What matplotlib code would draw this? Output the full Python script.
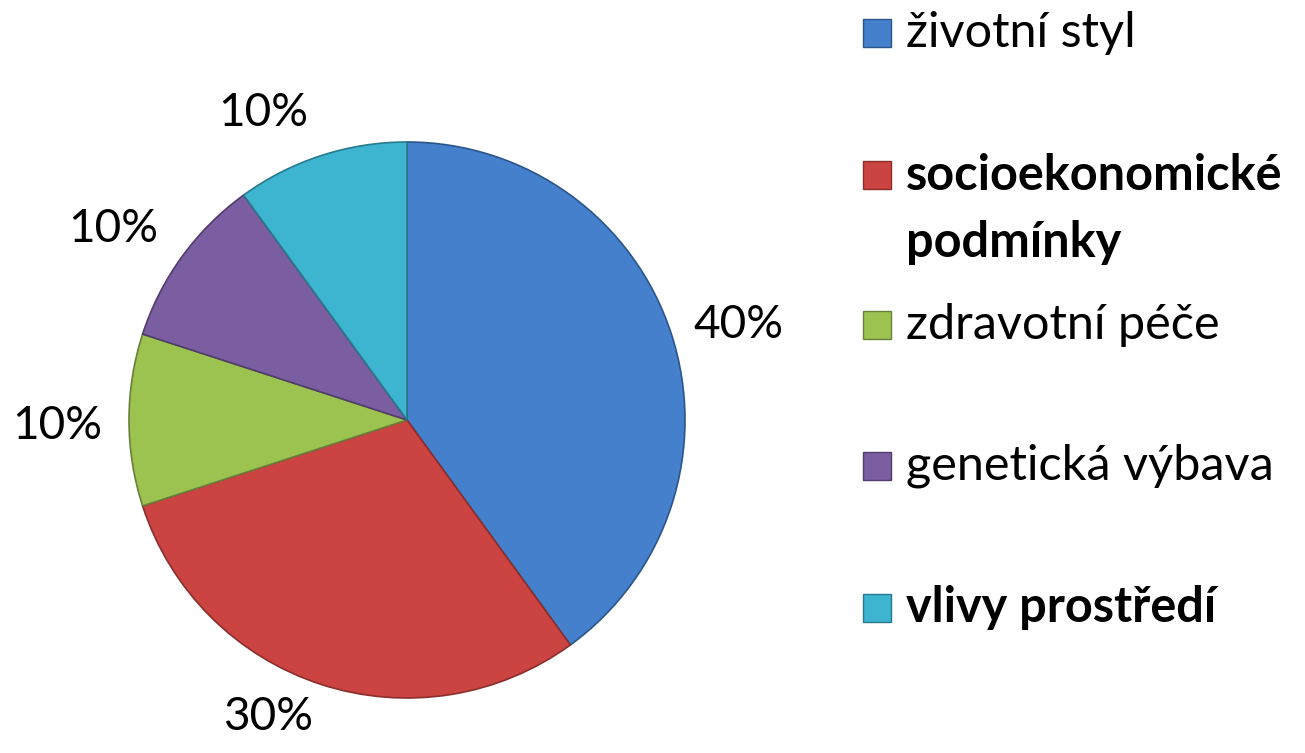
import numpy as np
import matplotlib.pyplot as plt
from matplotlib.patches import Rectangle

labels = ["životní styl", "socioekonomické\npodmínky", "zdravotní péče",
          "genetická výbava", "vlivy prostředí"]
bold = [False, True, False, False, True]
values = [40, 30, 10, 10, 10]
colors = ["#4480cc", "#cc4441", "#9cc24f", "#7b5da1", "#3db4d0"]
edges = ["#2c568a", "#8a2e2c", "#67813a", "#503c6b", "#277a8c"]

# label placement tweaks (angle shift in degrees, distance in radii)
lab_shift = [-2, -7, 1, 3, 7]
lab_dist = [1.24, 1.18, 1.26, 1.26, 1.22]

plt.rcParams['font.family'] = ['Lato', 'DejaVu Sans']

fig = plt.figure(figsize=(13.05, 7.53), dpi=100)
ax = fig.add_axes([129 / 1305, 55 / 753, 556 / 1305, 556 / 753])

wedges, texts, autotexts = ax.pie(
    values, colors=colors, startangle=90, counterclock=False,
    autopct=lambda p: f"{p:.0f}%", pctdistance=1.25, radius=1,
    wedgeprops=dict(linewidth=1.2), textprops=dict(fontsize=33))
for w, e, t, sh, d in zip(wedges, edges, autotexts, lab_shift, lab_dist):
    w.set_edgecolor(e)
    mid = np.deg2rad((w.theta1 + w.theta2) / 2 + sh)
    t.set_position((d * np.cos(mid), d * np.sin(mid)))
ax.set_xlim(-1, 1)
ax.set_ylim(-1, 1)
ax.set_aspect('equal')

# legend drawn by hand to match the spacing
ys = [35, 177, 327, 468, 610]
for lab, b, c, e, y in zip(labels, bold, colors, edges, ys):
    fig.patches.append(Rectangle((863 / 1305, 1 - (y + 12) / 753), 28 / 1305, 28 / 753,
                                 transform=fig.transFigure, facecolor=c,
                                 edgecolor=e, linewidth=1))
    for i, line in enumerate(lab.split('\n')):
        fig.text(906 / 1305, 1 - (y - 2 + 68 * i) / 753, line, fontsize=35,
                 va='center', ha='left', fontweight='bold' if b else 'normal')

fig.savefig("out.png", dpi=100)
